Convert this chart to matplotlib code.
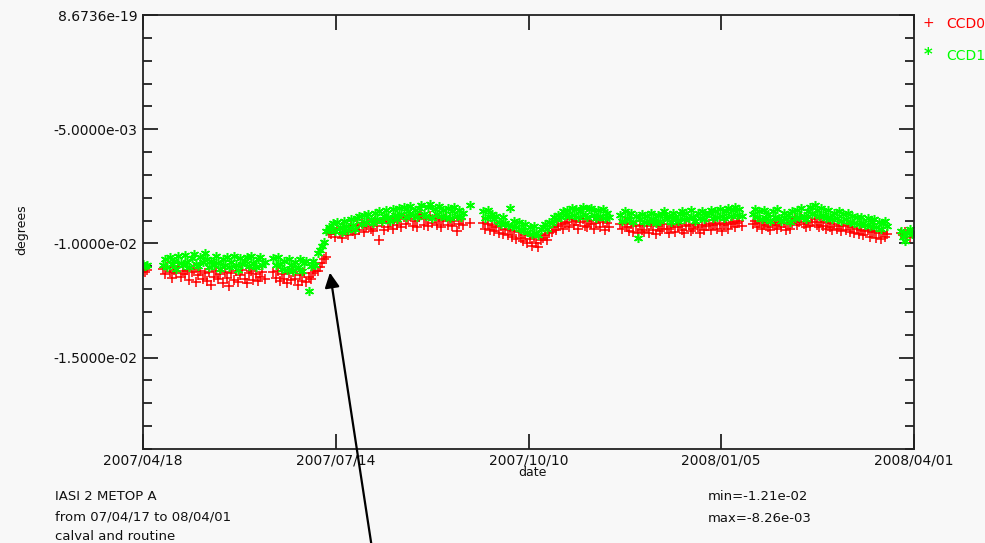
import numpy as np
import matplotlib
matplotlib.use('Agg')
import matplotlib.pyplot as plt
import matplotlib.dates as mdates

plt.rcParams['font.family'] = 'DejaVu Sans'
plt.rcParams['axes.unicode_minus'] = False

# daily values in units of 1e-3 degrees, grouped in runs of consecutive days
# (first day of each run, CCD0 values, CCD1 values)
run_a_start = '2007-04-18'
ccd0_a = [-11.20, -11.25, -11.15]
ccd1_a = [-10.90, -11.00, -10.95]

run_b_start = '2007-04-27'
ccd0_b = [-11.10, -11.35, -11.05, -11.25, -11.50, -11.15, -11.30, -11.05, -11.45, -11.20,
          -11.35, -11.15, -11.60, -11.25, -11.10, -11.70, -11.40, -11.20, -11.55, -11.30,
          -11.65, -11.25, -11.80, -11.45, -11.20, -11.55, -11.35, -11.75, -11.25, -11.50,
          -11.85, -11.30, -11.60, -11.20, -11.70, -11.40, -11.15, -11.55, -11.75, -11.30,
          -11.20, -11.60, -11.35, -11.65, -11.45, -11.25, -11.55]
ccd1_b = [-10.95, -10.70, -11.05, -10.60, -10.90, -10.75, -11.10, -10.55, -10.85, -10.95,
          -10.50, -10.80, -11.05, -10.65, -10.45, -10.90, -11.00, -10.60, -10.80, -10.40,
          -10.70, -11.05, -10.75, -10.95, -10.55, -10.85, -11.10, -10.70, -10.95, -10.60,
          -11.05, -10.80, -10.55, -10.95, -11.15, -10.65, -10.90, -10.75, -10.60, -11.00,
          -10.55, -10.85, -11.05, -10.70, -10.60, -10.95, -10.80]

run_c_start = '2007-06-16'
ccd0_c = [-11.25, -11.50, -11.20, -11.65, -11.35, -11.55, -11.75, -11.30, -11.60, -11.25,
          -11.55, -11.80, -11.40, -11.65, -11.30, -11.70, -11.45, -11.55, -11.30, -11.20,
          -11.20, -11.05, -10.85, -10.70, -10.60, -9.55]
ccd1_c = [-10.65, -10.95, -10.60, -10.90, -11.10, -10.75, -11.15, -10.70, -10.95, -11.20,
          -10.80, -11.05, -10.70, -11.20, -10.85, -10.75, -12.10, -11.00, -10.75, -10.95,
          -10.40, -10.30, -10.10, -9.95, -9.45, -9.30]

run_d_start = '2007-07-12'
ccd0_d = [-9.60, -9.40, -9.70, -9.35, -9.55, -9.75, -9.30, -9.50, -9.65, -9.25,
          -9.45, -9.60, -9.20, -9.40, -9.10, -9.50, -9.30, -9.05, -9.35, -9.45,
          -9.00, -9.25, -9.85, -9.10, -9.40, -8.95, -9.30, -9.05, -9.35, -8.90,
          -9.20, -8.95, -9.30, -8.85, -9.15, -8.95, -8.80, -9.25, -9.00, -9.30,
          -8.85, -8.75, -9.20, -8.95, -9.25, -8.80, -9.10, -8.90, -9.20, -8.95,
          -9.30, -9.00, -8.85, -9.20, -8.95, -9.25, -9.00, -9.45, -9.15, -8.95,
          -9.20]
ccd1_d = [-9.35, -9.10, -9.45, -9.05, -9.30, -9.50, -9.00, -9.25, -9.40, -8.95,
          -9.20, -9.35, -8.90, -8.80, -9.15, -8.75, -9.05, -8.70, -8.95, -9.10,
          -8.65, -8.95, -8.60, -9.00, -8.80, -8.55, -8.85, -9.00, -8.50, -8.75,
          -8.95, -8.45, -8.70, -8.40, -8.85, -8.60, -8.35, -8.75, -8.55, -8.85,
          -8.45, -8.30, -8.70, -8.80, -8.40, -8.26, -8.90, -8.50, -8.70, -8.35,
          -8.80, -8.55, -8.85, -8.45, -8.90, -8.60, -8.40, -8.80, -8.55, -8.85,
          -8.65]

run_e_start = '2007-09-13'
ccd0_e = [-9.10]
ccd1_e = [-8.33]

run_f_start = '2007-09-19'
ccd0_f = [-9.10, -9.35, -9.15, -9.40, -9.20, -9.45,
          -9.30, -9.55, -9.25, -9.60, -9.35, -9.65, -9.40, -9.70, -9.45, -9.80, -9.50, -9.75,
          -9.90, -9.65, -10.00, -9.80, -10.10, -9.70, -10.00, -10.15, -9.85, -9.75, -9.65, -9.85, -9.55,
          -9.50, -9.30, -9.40, -9.25, -9.15, -9.35, -9.10,
          -9.05, -9.30, -8.95, -9.20, -9.00, -9.35, -9.05, -8.95, -9.25, -9.30,
          -9.00, -9.15, -9.35, -9.10, -8.95, -9.30, -9.05, -9.40, -9.10, -9.30]
ccd1_f = [-8.60, -8.90, -8.55, -8.85, -8.70, -8.95,
          -8.80, -9.05, -9.15, -8.85, -9.10, -9.20, -8.46, -9.25, -9.00, -9.30, -9.05, -9.35,
          -9.40, -9.15, -9.50, -9.30, -9.60, -9.25, -9.55, -9.65, -9.35, -9.30, -9.15, -9.35, -9.05,
          -9.10, -8.85, -8.95, -8.75, -8.85, -8.60, -8.75,
          -8.55, -8.80, -8.45, -8.75, -8.50, -8.85, -8.60, -8.40, -8.75, -8.85,
          -8.50, -8.45, -8.75, -8.90, -8.55, -8.80, -8.50, -8.90, -8.65, -8.85]

run_g_start = '2007-11-20'
ccd0_g = [-9.15, -9.35, -9.10, -9.30, -9.45, -9.15, -9.50, -9.25, -9.55, -9.20,
          -9.40, -9.50, -9.25, -9.55, -9.15, -9.40, -9.60, -9.25, -9.45, -9.35,
          -9.15, -9.35, -9.55, -9.30, -9.20, -9.50, -9.30, -9.15, -9.40, -9.55,
          -9.25, -9.20, -9.45, -9.35, -9.15, -9.30, -9.55, -9.20, -9.40, -9.25,
          -9.15, -9.40, -9.20, -9.10, -9.35, -9.15, -9.45, -9.20, -9.10, -9.35,
          -9.15, -9.05, -9.30, -9.10, -9.00, -9.25]
ccd1_g = [-8.75, -9.00, -8.60, -8.90, -8.95, -8.65, -9.05, -8.80, -9.75, -8.95,
          -8.70, -9.05, -8.80, -9.00, -8.65, -8.95, -9.10, -8.75, -9.00, -8.70,
          -8.60, -8.95, -8.80, -9.05, -8.65, -8.85, -9.00, -8.70, -8.60, -8.95,
          -8.65, -8.90, -8.55, -8.85, -9.00, -8.65, -8.90, -8.60, -8.95, -8.75,
          -8.65, -8.55, -8.90, -8.60, -8.85, -8.50, -8.80, -8.90, -8.60, -8.45,
          -8.80, -8.55, -8.40, -8.75, -8.50, -8.80]

run_h_start = '2008-01-19'
ccd0_h = [-9.15, -9.00, -9.30, -9.10, -9.35, -9.20, -9.05, -9.30, -9.40, -9.10,
          -9.20, -9.35, -9.05, -9.30, -9.10, -9.40, -9.15, -9.35, -9.10, -8.95,
          -9.20, -9.05, -8.90, -9.15, -9.30, -9.00, -9.25, -9.05, -8.95, -9.20,
          -9.30, -9.05, -9.25, -9.35, -9.10, -9.30, -9.40, -9.15, -9.35, -9.25,
          -9.45, -9.25, -9.40, -9.20, -9.50, -9.30, -9.55, -9.35, -9.60, -9.40,
          -9.65, -9.45, -9.40, -9.70, -9.50, -9.45, -9.75, -9.55, -9.80, -9.50,
          -9.70, -9.60]
ccd1_h = [-8.70, -8.50, -8.85, -8.60, -8.95, -8.55, -8.90, -8.70, -9.00, -8.60,
          -8.85, -8.50, -8.90, -9.00, -8.65, -8.95, -8.75, -9.05, -8.60, -8.90,
          -8.55, -8.85, -8.45, -8.80, -8.95, -8.60, -8.40, -8.70, -8.33, -8.55,
          -8.80, -8.45, -8.75, -8.90, -8.55, -8.85, -8.95, -8.65, -8.90, -8.60,
          -9.00, -8.70, -8.95, -8.65, -9.05, -8.80, -9.10, -8.85, -9.15, -8.85,
          -9.10, -9.20, -8.90, -9.25, -9.05, -8.95, -9.30, -9.05, -9.35, -9.10,
          -9.00, -9.25]

run_i_start = '2008-03-26'
ccd0_i = [-9.55, -9.65, -9.50, -9.60, -9.70, -9.55]
ccd1_i = [-9.45, -9.70, -9.90, -9.55, -9.35, -9.60]

runs = [(run_a_start, ccd0_a, ccd1_a), (run_b_start, ccd0_b, ccd1_b),
        (run_c_start, ccd0_c, ccd1_c), (run_d_start, ccd0_d, ccd1_d),
        (run_e_start, ccd0_e, ccd1_e), (run_f_start, ccd0_f, ccd1_f),
        (run_g_start, ccd0_g, ccd1_g), (run_h_start, ccd0_h, ccd1_h),
        (run_i_start, ccd0_i, ccd1_i)]

x_ticklabels = ['2007/04/18', '2007/07/14', '2007/10/10', '2008/01/05', '2008/04/01']
y_ticks = [0.0, -5.0e-3, -1.0e-2, -1.5e-2]
y_ticklabels = ['8.6736e-19', '-5.0000e-03', '-1.0000e-02', '-1.5000e-02']

dates = []
ccd0 = []
ccd1 = []
for start, v0, v1 in runs:
    d = np.datetime64(start) + np.arange(len(v0))
    dates.extend(d.astype('datetime64[D]').tolist())
    ccd0.extend(v0)
    ccd1.extend(v1)
dates = mdates.date2num(dates)
ccd0 = np.array(ccd0) * 1e-3
ccd1 = np.array(ccd1) * 1e-3

bg = '#f8f8f8'
fig = plt.figure(figsize=(9.85, 5.43), dpi=100, facecolor=bg)
ax = fig.add_axes([143/985, 1-449/543, 771/985, 434/543], facecolor=bg)

ax.plot(dates, ccd0, color='#ff0000', marker='+', markersize=6.5, markeredgewidth=1.1,
        linestyle='None', label='CCD0')
ax.plot(dates, ccd1, color='#00ff00', marker=(6, 2, 0), markersize=6.5, markeredgewidth=1.1,
        linestyle='None', label='CCD1')

x0 = mdates.datestr2num('2007-04-18')
x1 = mdates.datestr2num('2008-04-01')
ax.set_xlim(x0, x1)
ax.set_ylim(-0.019, 0.0)

ax.set_xticks(np.linspace(x0, x1, 5))
ax.set_xticklabels(x_ticklabels)
ax.set_yticks(y_ticks)
ax.set_yticklabels(y_ticklabels)
ax.set_yticks(np.arange(-0.019, 0.0001, 0.001), minor=True)

for side in ['left', 'right', 'top', 'bottom']:
    ax.spines[side].set_color('#222222')
    ax.spines[side].set_linewidth(1.3)
ax.tick_params(axis='both', which='both', direction='in', color='#222222', width=1.3,
               top=True, right=True, labelsize=10, labelcolor='#111111')
ax.tick_params(axis='y', which='major', length=11, pad=4)
ax.tick_params(axis='y', which='minor', length=6.5)
ax.tick_params(axis='x', which='major', length=11, pad=3)

fig.text(22/985, 1-230/543, 'degrees', rotation=90, ha='center', va='center',
         fontsize=9, color='#111111')
fig.text(532/985, 1-472/543, 'date', ha='center', va='center', fontsize=9, color='#111111')

# legend drawn as loose symbols + text on the right margin
fig.text(928/985, 1-23/543, '+', color='#ff0000', ha='center', va='center', fontsize=10)
fig.text(946/985, 1-24/543, 'CCD0', color='#ff0000', ha='left', va='center', fontsize=10)
fig.text(928/985, 1-55/543, '*', color='#00ff00', ha='center', va='center', fontsize=12,
         fontweight='bold')
fig.text(946/985, 1-56/543, 'CCD1', color='#00ff00', ha='left', va='center', fontsize=10)

info_left = ['IASI 2 METOP A', 'from 07/04/17 to 08/04/01', 'calval and routine']
for i, line in enumerate(info_left):
    fig.text(55/985, 1-(497+20*i)/543, line, ha='left', va='center', fontsize=9.5,
             color='#111111')
info_right = ['min=-1.21e-02', 'max=-8.26e-03']
for i, line in enumerate(info_right):
    fig.text(708/985, 1-(497+21*i)/543, line, ha='left', va='center', fontsize=9.5,
             color='#111111')

# arrow pointing at the jump in July
jump_date = mdates.datestr2num('2007-07-11') + 0.6
jump_value = -0.01128
ax.annotate('', xy=(jump_date, jump_value), xycoords='data',
            xytext=(372/985, -0.01), textcoords='figure fraction',
            arrowprops=dict(arrowstyle='-|>', color='black', lw=1.6, mutation_scale=22,
                            shrinkA=0, shrinkB=0),
            annotation_clip=False)

plt.savefig('out.png', dpi=100, facecolor=bg)
